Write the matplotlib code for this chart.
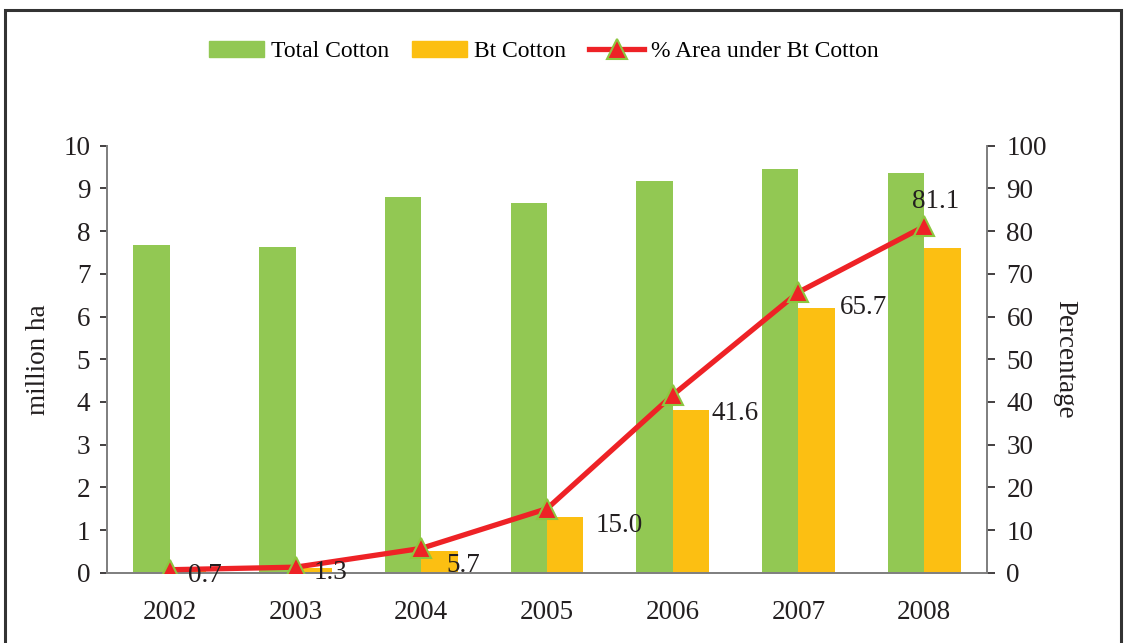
import matplotlib
matplotlib.use("Agg")
import matplotlib.pyplot as plt
from matplotlib.patches import Rectangle, Patch
from matplotlib.lines import Line2D
import numpy as np

years = ["2002", "2003", "2004", "2005", "2006", "2007", "2008"]
total_cotton = [7.67, 7.62, 8.80, 8.66, 9.17, 9.45, 9.36]
bt_cotton = [0.05, 0.10, 0.51, 1.31, 3.81, 6.20, 7.60]
pct_bt = [0.7, 1.3, 5.7, 15.0, 41.6, 65.7, 81.1]
yticks_left = [0, 1, 2, 3, 4, 5, 6, 7, 8, 9, 10]
yticks_right = [0, 10, 20, 30, 40, 50, 60, 70, 80, 90, 100]

# label offsets in points (x, y)
label_offsets = [(13, -4), (13, -4), (18, -12), (35, -12), (28, -13), (30, -11), (8, 18)]
label_ha = ["left", "left", "left", "left", "left", "left", "center"]

GREEN = "#92C853"
YELLOW = "#FCBF12"
RED = "#EE2226"
MEDGE = "#8DC63F"
SPINE = "#808080"
TXT = "#231F20"
FS = 19.5

plt.rcParams['font.family'] = ['Liberation Serif', 'DejaVu Serif']

fig = plt.figure(figsize=(11.26, 6.43), dpi=100)
ax = fig.add_axes([0.0950, 0.1093, 0.7816, 0.6641])
ax2 = ax.twinx()

x = np.arange(len(years))
w = 0.29
ax.bar(x - w / 2, total_cotton, width=w, color=GREEN, zorder=2)
ax.bar(x + w / 2, bt_cotton, width=w, color=YELLOW, zorder=2)

ax.set_xlim(-0.5, len(years) - 0.5)
ax.set_ylim(0, 10)
ax.set_yticks(yticks_left)
ax.set_xticks(x)
ax.set_xticklabels(years)
ax.tick_params(axis='x', length=0, pad=20, labelsize=FS, colors=TXT)
ax.tick_params(axis='y', length=5, width=1.2, pad=7, labelsize=FS, colors=TXT, direction='out')

ax2.set_ylim(0, 100)
ax2.set_yticks(yticks_right)
ax2.tick_params(axis='y', length=6, width=1.2, pad=8, labelsize=FS, colors=TXT, direction='out')

for a in (ax, ax2):
    a.spines['top'].set_visible(False)
    for s in ('left', 'right', 'bottom'):
        a.spines[s].set_color(SPINE)
        a.spines[s].set_linewidth(1.3)

ax2.plot(x, pct_bt, color=RED, lw=3.8, marker='^', markersize=14,
         markerfacecolor=RED, markeredgecolor=MEDGE, markeredgewidth=1.5, zorder=5)

for xi, v, off, ha in zip(x, pct_bt, label_offsets, label_ha):
    ax2.annotate(f"{v:.1f}", (xi, v), xytext=off, textcoords='offset points',
                 ha=ha, va='center', fontsize=FS, color=TXT, zorder=6)

ax.set_ylabel("million ha", fontsize=FS, color=TXT, labelpad=9)
ax2.set_ylabel("Percentage", fontsize=FS, color=TXT, rotation=-90, labelpad=22)

handles = [Patch(color=GREEN), Patch(color=YELLOW),
           Line2D([0], [0], color=RED, lw=3.8, marker='^', markersize=14,
                  markerfacecolor=RED, markeredgecolor=MEDGE, markeredgewidth=1.5)]
fig.legend(handles, ["Total Cotton", "Bt Cotton", "% Area under Bt Cotton"],
           loc='center', bbox_to_anchor=(0.483, 0.92), ncol=3, frameon=False,
           fontsize=17, handlelength=2.3, handletextpad=0.3, columnspacing=1.0)

fig.patches.append(Rectangle((0.004, -0.2), 0.992, 1.184, transform=fig.transFigure,
                             fill=False, edgecolor="#333333", lw=2.2))

fig.savefig("out.png", dpi=100)
